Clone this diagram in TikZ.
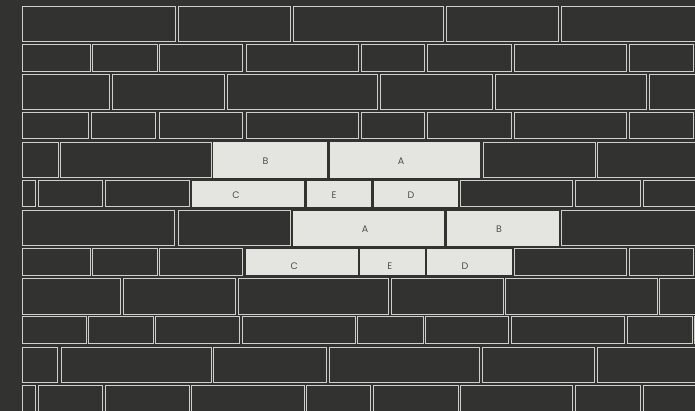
\documentclass[tikz,border=0pt]{standalone}
\usepackage{fontspec}
\setmainfont{Poppins}
\usepackage{xcolor}
\usepackage{tikz}

\definecolor{wallbg}{HTML}{323230}
\definecolor{brickedge}{HTML}{CFCFCC}
\definecolor{brickfill}{HTML}{E4E4E0}
\definecolor{labelgray}{HTML}{4E4E4C}

\begin{document}
\begin{tikzpicture}[
    x=1pt, y=-1pt,
    bata/.style={draw=brickedge, line width=1pt},
    sorot/.style={fill=brickfill},
    huruf/.style={inner sep=0pt, text=labelgray, font=\fontsize{9.5}{10}\selectfont}
  ]
    \fill[wallbg] (0,0) rectangle (695,411);
    \useasboundingbox (0,0) rectangle (695,411);
    \clip (0,0) rectangle (695,411);

    % dark bricks, row by row
    \foreach \ya/\yb/\baris in {
        6.3/41.7/{22.7/175.3,178.3/290.3,293.3/443.7,446.7/558.7,561.3/700},
        45/71.7/{22.7/90,92.7/157.3,159.7/242.7,246/358.3,361/424.7,427.3/511.7,514/626,629/693.3},
        75/110/{22.7/109.7,112.7/224.3,227.3/377.7,380.7/492.7,495.3/646,649/700},
        113/138.5/{22.7/88.3,91/155.7,159/242.7,246/358.3,361/424.7,427.3/511.7,514/626,629/693.3},
        142.3/177.7/{22.7/58,60.7/211,483.3/595,597.7/700},
        181/207/{22.7/35.3,38.3/102.7,105.3/189,460.7/572,575/640.7,643.3/700},
        211/245.7/{22.7/174.7,178/290,561.3/700},
        249/275.3/{22.7/90,92.7/157.3,159.3/242.7,514/626.7,629/693.7},
        278.3/314.3/{22.7/120.3,123.3/235,238.3/388.7,391/503.3,505.7/657,659.3/700},
        316.3/343/{22.7/86,88.7/153.7,155.3/239.3,242.7/355.3,357.7/423,425.3/508.7,511.3/624,627.3/692.7,694.3/700},
        347.3/382.7/{22.7/57.7,61/211,213.7/326.7,329.3/479,482.3/594.7,597.3/700},
        385/420/{22.7/35,38.3/102.7,105.3/189,191.7/304,306.3/370.3,373.3/458,460.7/572,575/640,643/700}}
    {
      \foreach \xa/\xb in \baris
        \draw[bata] (\xa,\ya) rectangle (\xb,\yb);
    }

    % light bricks
    \fill[sorot] (213.3,142.3) rectangle (327,177.7);
    \fill[sorot] (330,142.3) rectangle (480,177.7);
    \fill[sorot] (191.7,181) rectangle (304,207);
    \fill[sorot] (307,181) rectangle (371,207);
    \fill[sorot] (373.7,181) rectangle (458,207);
    \fill[sorot] (293.3,211) rectangle (443.7,245.7);
    \fill[sorot] (446.7,211) rectangle (558.7,245.7);
    \fill[sorot] (246,249) rectangle (358.3,275.3);
    \fill[sorot] (360,249) rectangle (425,275.3);
    \fill[sorot] (427,249) rectangle (511.7,275.3);

    \node[huruf] (b1) at (265.5,161) {B};
    \node[huruf] (a1) at (401,161) {A};
    \node[huruf] (c1) at (236,195) {C};
    \node[huruf] (e1) at (334,195) {E};
    \node[huruf] (d1) at (411,195) {D};
    \node[huruf] (a2) at (365,229) {A};
    \node[huruf] (b2) at (499,229) {B};
    \node[huruf] (c2) at (294.3,266) {C};
    \node[huruf] (e2) at (389.7,266) {E};
    \node[huruf] (d2) at (465,266) {D};
  \end{tikzpicture}
\end{document}
